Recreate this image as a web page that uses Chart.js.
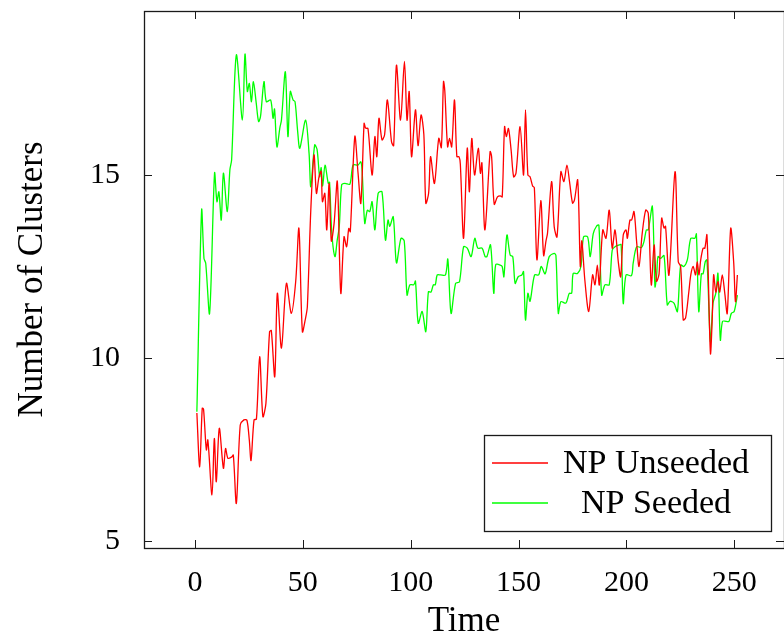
<!DOCTYPE html>
<html><head><meta charset="utf-8">
<script src="https://cdn.jsdelivr.net/npm/chart.js@4.4.0/dist/chart.umd.min.js"></script>
<style>html,body{margin:0;padding:0;background:#fff;overflow:hidden}#wrap{width:784px;height:639px;position:relative}</style>
</head><body><div id="wrap"><canvas id="c" width="784" height="639"></canvas></div>
<script>
const seriesNames = ['NP Unseeded', 'NP Seeded'];
const xTickValues = [0, 50, 100, 150, 200, 250];
const yTickValues = [5, 10, 15];

const unseededTime = [0.9,2.2,3.4,4.0,5.3,6.0,7.9,9.0,9.9,11.3,13.2,14.2,15.3,17.1,17.8,19.2,21.0,22.7,24.1,25.2,26.0,27.4,28.5,30.0,31.5,32.9,34.6,35.4,37.0,38.2,40.1,42.4,44.7,46.7,48.2,49.8,51.3,52.1,53.7,55.2,56.3,57.5,58.5,59.1,60.2,61.1,62.2,63.2,64.5,66.0,67.6,69.1,70.3,71.3,72.0,74.1,75.6,76.9,78.4,79.1,80.2,82.1,83.4,84.3,85.3,86.7,87.9,89.2,91.1,92.1,93.4,95.3,97.1,98.3,99.3,100.4,102.2,103.4,104.8,106.1,107.0,108.3,109.2,111.0,113.0,114.2,115.2,115.8,117.1,118.0,119.0,120.3,121.4,122.4,123.0,124.5,126.2,127.2,128.3,129.6,131.3,132.3,133.0,134.4,136.8,137.5,138.7,140.2,141.5,142.4,143.5,144.3,145.3,146.5,147.7,148.8,150.7,152.3,153.2,154.3,155.3,156.5,157.3,158.5,160.3,161.6,162.7,163.4,165.3,166.5,167.8,169.6,171.0,172.4,173.6,175.0,175.9,177.4,178.6,179.3,180.7,182.5,184.3,185.4,186.5,187.4,189.0,190.5,192.0,193.4,194.7,196.2,197.3,198.5,199.8,200.4,201.6,202.4,203.5,204.7,205.8,207.3,208.9,210.1,211.5,212.8,213.9,215.1,216.3,217.4,218.1,219.7,222.5,224.0,225.1,226.3,227.4,228.9,229.8,230.9,232.0,232.8,233.6,234.4,235.5,236.3,237.3,238.9,239.7,240.4,241.4,242.4,243.2,244.4,245.5,246.7,248.3,249.7,250.5,251.4];
const unseededClusters = [8.5,7.03,8.63,8.6,7.49,7.76,6.26,7.8,6.62,8.08,6.99,7.53,7.26,7.3,7.35,6.03,8.17,8.31,8.3,7.76,7.2,8.31,8.33,10.04,8.4,8.76,10.72,10.75,9.49,11.77,10.27,12.04,11.22,12.09,13.54,10.72,11.1,11.4,14.04,15.55,14.5,14.95,15.1,14.27,14.5,13.5,14.77,13.2,13.68,14.82,11.77,13.31,13.04,13.54,13.45,16.05,15.05,14.23,16.41,16.28,16.27,15.0,16.05,15.5,16.55,15.96,16.1,17.05,15.91,15.8,18.0,16.5,18.1,16.5,17.28,15.5,16.78,15.8,16.64,16.1,14.23,14.5,15.5,14.77,16.0,15.75,17.55,17.3,15.77,16.0,15.77,17.05,15.5,15.5,15.3,13.27,15.73,14.54,16.0,15.0,15.73,15.05,15.33,13.5,15.64,15.5,14.2,14.4,14.43,14.4,16.32,16.05,16.27,15.7,14.95,15.05,16.32,15.0,16.78,15.0,14.95,14.7,14.65,12.68,14.3,12.8,13.2,13.41,14.82,13.59,13.31,15.09,14.82,15.27,14.82,14.23,14.32,14.86,12.5,13.2,12.13,11.27,12.27,12.0,12.54,12.0,13.5,13.27,14.04,13.0,13.5,12.63,12.22,13.36,13.5,13.27,13.77,13.77,14.0,13.18,12.5,13.41,14.04,13.95,12.0,13.09,12.1,12.3,13.82,13.55,13.6,12.27,15.09,12.63,12.5,11.04,11.1,11.81,12.27,12.5,12.27,12.63,12.27,12.68,13.0,13.0,13.36,10.13,11.0,12.27,11.8,12.1,11.8,12.27,11.8,11.22,13.54,12.6,11.54,12.27];

const seededTime = [0.9,3.1,4.2,5.0,6.8,9.1,10.2,11.1,12.2,13.2,15.0,16.2,17.0,19.2,22.0,23.2,24.3,25.2,26.2,27.1,28.4,29.5,30.4,32.0,33.1,35.1,36.2,36.9,38.0,39.4,40.1,41.9,43.1,44.2,45.5,46.4,47.6,48.6,51.3,52.9,53.7,55.5,56.6,57.8,58.5,59.2,60.3,61.8,62.4,63.4,64.9,65.9,66.9,68.0,69.5,71.8,73.3,75.6,76.9,77.5,78.7,79.9,81.0,82.1,83.4,84.9,86.7,88.3,89.5,90.3,91.9,93.4,95.5,97.0,98.3,99.6,101.4,102.2,103.5,105.3,107.0,108.2,109.4,110.5,111.4,112.3,113.8,116.1,117.2,118.7,120.8,122.6,124.5,126.2,128.0,129.7,131.1,133.1,134.5,135.3,137.0,138.5,139.4,141.5,142.4,143.2,144.6,146.1,147.3,148.4,149.8,151.5,152.3,153.2,154.3,155.3,157.4,159.3,160.5,162.3,164.2,166.5,167.3,168.4,169.6,171.9,173.5,174.6,175.3,177.3,178.9,180.1,182.0,183.2,184.6,186.1,187.2,188.5,190.0,192.0,193.4,194.7,196.7,197.5,198.5,199.8,202.3,203.1,204.7,207.0,208.1,209.2,210.1,212.0,213.2,214.0,214.6,215.8,217.4,218.9,220.2,222.0,223.6,225.1,226.6,228.2,229.8,231.7,232.4,233.5,234.7,235.5,236.5,237.3,238.9,240.1,241.4,242.4,243.5,244.5,246.3,247.5,248.6,249.9,251.4];
const seededClusters = [8.53,14.04,12.72,12.59,11.22,15.05,14.27,14.54,13.77,15.05,14.0,15.14,15.41,18.28,16.5,18.3,17.28,17.5,17.0,17.55,16.97,16.46,16.6,17.55,17.0,17.05,16.55,16.8,15.77,16.3,16.5,17.82,16.05,17.28,17.05,17.0,16.2,15.73,16.5,15.59,14.68,15.82,15.7,14.95,15.2,14.7,15.27,14.77,14.8,13.45,12.77,13.2,13.6,14.73,14.77,14.75,15.27,15.27,15.36,15.1,13.68,14.04,14.0,14.27,13.5,14.5,14.54,13.22,13.77,13.6,13.86,12.6,13.27,13.2,11.72,12.0,12.0,12.1,10.95,11.27,10.72,11.81,11.8,12.0,12.0,12.27,12.27,12.27,12.7,11.22,12.04,12.08,13.04,13.0,12.77,13.27,13.0,13.0,12.77,12.77,13.09,11.77,12.55,12.54,12.5,12.22,13.36,12.81,12.77,12.04,12.22,12.27,12.36,11.04,11.77,11.55,12.27,12.27,12.5,12.3,12.77,12.86,12.8,11.22,11.54,11.5,11.77,11.77,12.31,12.31,12.5,13.31,13.31,12.77,13.4,13.6,13.63,11.72,12.0,12.0,12.95,13.04,13.09,13.1,11.49,12.27,12.25,12.59,13.04,13.02,13.18,13.5,13.5,14.14,11.95,12.27,12.77,12.72,12.8,11.45,11.55,11.5,11.27,12.54,12.5,12.68,13.27,13.27,13.39,11.27,12.3,12.3,12.63,12.68,10.45,11.5,11.77,12.31,10.49,11.0,11.0,11.0,11.22,11.27,11.72];

const toPoints = (xs, ys) => xs.map((x, i) => ({x: x, y: ys[i]}));

const FONT = "'Liberation Serif', 'Times New Roman', serif";

const axisFramePlugin = {
  id: 'axisFrame',
  afterDatasetsDraw(chart) {
    const {ctx, chartArea: a, scales} = chart;
    ctx.save();
    ctx.strokeStyle = '#1a1a1a';
    ctx.lineWidth = 1;
    const tl = 8;
    ctx.beginPath();
    scales.x.ticks.forEach(t => {
      const px = Math.round(scales.x.getPixelForValue(t.value)) + 0.5;
      ctx.moveTo(px, a.bottom); ctx.lineTo(px, a.bottom - tl);
      ctx.moveTo(px, a.top); ctx.lineTo(px, a.top + tl);
    });
    scales.y.ticks.forEach(t => {
      const py = Math.round(scales.y.getPixelForValue(t.value)) + 0.5;
      ctx.moveTo(a.left, py); ctx.lineTo(a.left + tl, py);
      ctx.moveTo(a.right, py); ctx.lineTo(a.right - tl, py);
    });
    ctx.stroke();
    ctx.lineWidth = 1.3;
    ctx.strokeRect(Math.round(a.left) + 0.5, Math.round(a.top) + 0.5, a.right - a.left, a.bottom - a.top);
    ctx.restore();
  },
  afterDraw(chart) {
    const {ctx, chartArea: a} = chart;
    const w = 287, h = 96;
    const x0 = a.right - 13 - w, y0 = a.bottom - 17 - h;
    ctx.save();
    ctx.fillStyle = '#fff';
    ctx.fillRect(x0, y0, w, h);
    ctx.strokeStyle = '#1a1a1a';
    ctx.lineWidth = 1.3;
    ctx.strokeRect(x0 + 0.5, y0 + 0.5, w, h);
    ctx.font = "34px " + FONT;
    ctx.textAlign = 'center';
    ctx.textBaseline = 'middle';
    chart.data.datasets.forEach((ds, i) => {
      const cy = y0 + 28 + i * 40;
      ctx.strokeStyle = ds.borderColor;
      ctx.lineWidth = ds.borderWidth;
      ctx.beginPath();
      ctx.moveTo(x0 + 8, cy); ctx.lineTo(x0 + 64, cy);
      ctx.stroke();
      ctx.fillStyle = '#000';
      ctx.fillText(ds.label, x0 + 172, cy + 1);
    });
    ctx.restore();
  }
};

new Chart(document.getElementById('c'), {
  type: 'line',
  data: {
    datasets: [
      {label: seriesNames[0], data: toPoints(unseededTime, unseededClusters), borderColor: '#ff0000', borderWidth: 1.3, pointRadius: 0, tension: 0.3, fill: false},
      {label: seriesNames[1], data: toPoints(seededTime, seededClusters), borderColor: '#00ff00', borderWidth: 1.3, pointRadius: 0, tension: 0.3, fill: false}
    ]
  },
  options: {
    responsive: false,
    devicePixelRatio: 1,
    animation: false,
    layout: {padding: {top: 11, right: 0, left: 0, bottom: 0}},
    plugins: {legend: {display: false}, tooltip: {enabled: false}},
    scales: {
      x: {
        type: 'linear', min: -23.6, max: 273,
        afterBuildTicks: s => { s.ticks = xTickValues.map(v => ({value: v})); },
        afterFit: s => { s.height = 91; s.paddingLeft = 0; s.paddingRight = 0; },
        grid: {display: false}, border: {display: false},
        ticks: {color: '#000', font: {family: FONT, size: 30}, padding: 9, maxRotation: 0, autoSkip: false},
        title: {display: true, text: 'Time', color: '#000', font: {family: FONT, size: 35, lineHeight: 1}, padding: {bottom: 0, top: 0}}
      },
      y: {
        type: 'linear', min: 4.81, max: 19.48,
        afterBuildTicks: s => { s.ticks = yTickValues.map(v => ({value: v})); },
        afterFit: s => { s.width = 144; s.paddingTop = 0; s.paddingBottom = 0; },
        grid: {display: false}, border: {display: false},
        ticks: {color: '#000', font: {family: FONT, size: 30}, padding: 16},
        title: {display: true, text: 'Number of Clusters', color: '#000', font: {family: FONT, size: 35, lineHeight: 1}, padding: {top: 15, bottom: 0}}
      }
    }
  },
  plugins: [axisFramePlugin]
});
</script></body></html>
